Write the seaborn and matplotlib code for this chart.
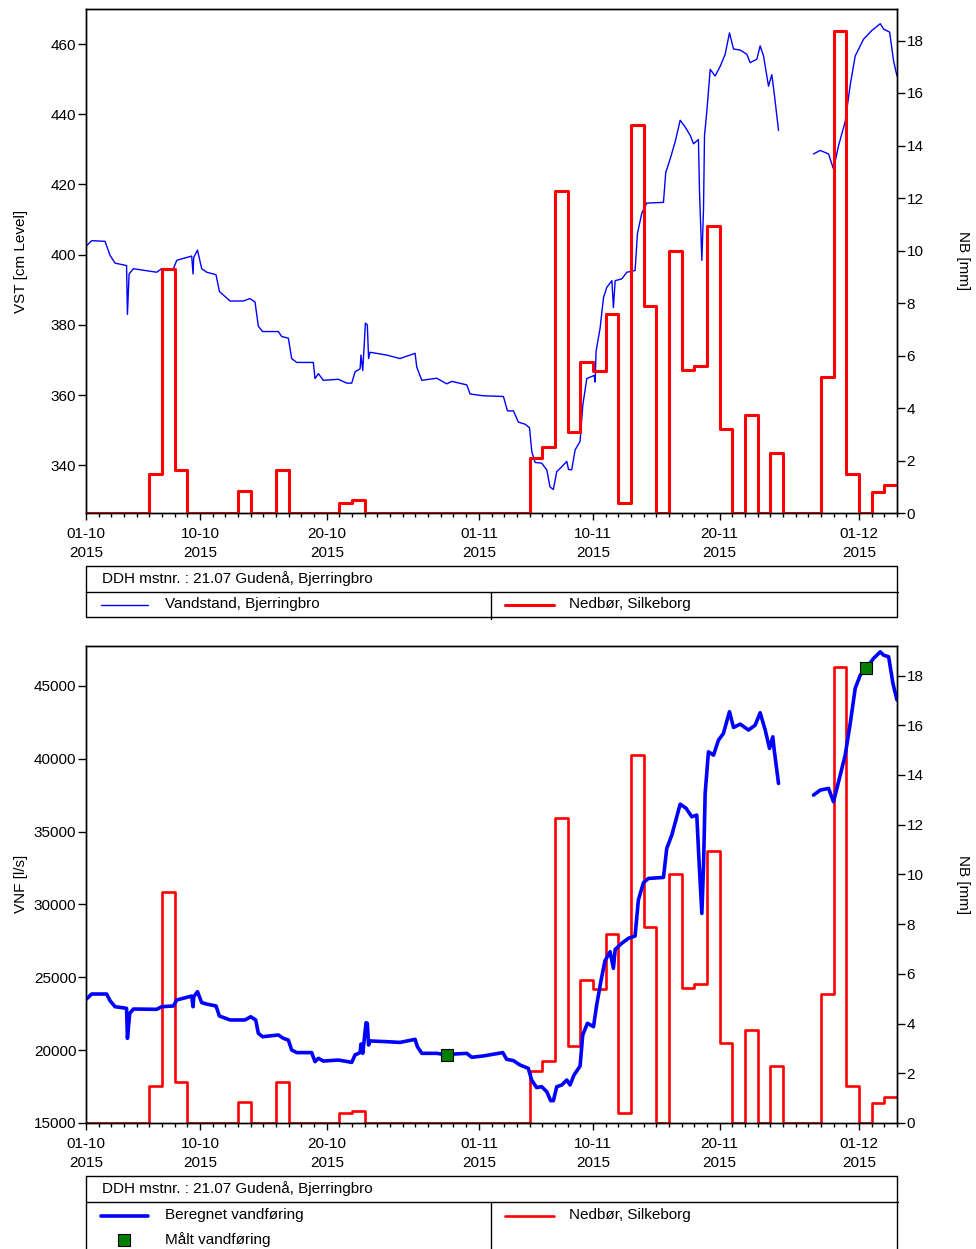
import numpy as np
import pandas as pd
import matplotlib
matplotlib.use('Agg')
import matplotlib.pyplot as plt
import matplotlib.dates as mdates
from matplotlib.patches import Rectangle
import seaborn as sns

sns.set_theme(style='ticks')
plt.rcParams['font.family'] = ['Liberation Sans', 'DejaVu Sans']
for key in ['text.color', 'axes.labelcolor', 'xtick.color', 'ytick.color', 'axes.edgecolor']:
    plt.rcParams[key] = 'black'

START = pd.Timestamp('2015-10-01')
END = pd.Timestamp('2015-12-04')

# daily precipitation, Silkeborg [mm], 01-10-2015 .. 03-12-2015
nb_mm = [0, 0, 0, 0, 0, 1.5, 9.3, 1.65, 0, 0, 0, 0, 0.85, 0, 0, 1.65,
         0, 0, 0, 0, 0.4, 0.5, 0, 0, 0, 0, 0, 0, 0, 0, 0, 0, 0, 0, 0,
         2.1, 2.5, 12.25, 3.1, 5.75, 5.4, 7.6, 0.4, 14.8, 7.9, 0, 10.0,
         5.45, 5.6, 10.95, 3.2, 0, 3.75, 0, 2.3, 0, 0, 0, 5.2, 18.35, 1.5,
         0, 0.8, 1.05]

# water level, Bjerringbro [cm] (days after 01-10-2015)
vst_day = [0.0, 0.45, 1.5, 1.9, 2.29, 3.2, 3.27, 3.4, 3.74, 5.58, 5.97, 6.9,
           7.16, 8.34, 8.45, 8.5, 8.8, 9.13, 9.53, 10.26, 10.53, 11.37, 12.42,
           12.94, 13.34, 13.6, 13.94, 15.18, 15.44, 15.97, 16.23, 16.63, 17.94,
           18.07, 18.34, 18.73, 19.92, 20.58, 20.97, 21.23, 21.63, 21.7, 21.84,
           22.05, 22.2, 22.3, 22.41, 23.73, 24.78, 25.97, 26.1, 26.5, 27.68,
           28.47, 28.87, 30.05, 30.31, 31.36, 32.94, 33.26, 33.73, 34.12, 34.65,
           35.0, 35.18, 35.44, 35.96, 36.36, 36.62, 36.88, 37.15, 37.55, 37.94,
           38.08, 38.33, 38.6, 38.99, 39.2, 39.52, 40.1, 40.18, 40.25, 40.57,
           40.84, 41.1, 41.5, 41.62, 41.76, 42.28, 42.68, 43.33, 43.52, 43.86,
           44.25, 45.57, 45.75, 46.1, 46.49, 46.89, 47.28, 47.68, 47.94, 48.33,
           48.41, 48.6, 48.73, 48.81, 48.99, 49.26, 49.65, 50.05, 50.44, 50.78,
           51.1, 51.63, 52.15, 52.41, 52.94, 53.2, 53.47, 53.86, 54.12, 54.31,
           54.65,
           57.41, 57.94, 58.6, 58.99, 59.39, 59.91, 60.31, 60.7, 61.36, 62.02,
           62.68, 62.94, 63.42, 63.73, 64.0]
vst_cm = [402.4, 404.0, 403.8, 399.8, 397.6, 396.9, 383.0, 394.5, 396.0, 395.0,
          396.0, 396.0, 398.4, 399.6, 394.5, 399.2, 401.3, 396.0, 395.0, 394.3,
          389.5, 386.8, 386.8, 387.5, 386.5, 379.6, 378.1, 378.1, 376.7, 376.2,
          370.4, 369.3, 369.3, 364.7, 366.1, 364.2, 364.5, 363.4, 363.4, 366.6,
          367.5, 371.4, 367.0, 380.5, 380.0, 370.4, 372.2, 371.4, 370.4, 371.9,
          368.0, 364.2, 364.8, 363.2, 363.9, 362.9, 360.3, 359.8, 359.6, 355.5,
          355.5, 352.3, 351.7, 350.7, 343.9, 340.8, 340.6, 338.7, 333.8, 333.1,
          338.2, 339.6, 341.1, 338.8, 338.7, 344.4, 346.8, 357.0, 364.7, 365.6,
          363.7, 372.4, 379.1, 387.8, 390.7, 392.6, 384.9, 392.6, 393.1, 395.0,
          395.5, 406.1, 411.8, 414.7, 414.9, 423.4, 427.3, 432.1, 438.3, 436.4,
          434.0, 431.6, 432.8, 418.6, 398.4, 412.8, 434.0, 440.7, 452.8, 450.9,
          453.7, 457.1, 463.2, 458.6, 458.3, 457.1, 454.7, 455.7, 459.5, 456.6,
          448.0, 451.3, 446.0, 435.4,
          428.7, 429.7, 428.7, 424.4, 431.1, 437.9, 448.4, 456.6, 461.4, 463.9,
          465.8, 464.3, 463.4, 455.2, 450.9]

# computed discharge, Bjerringbro [l/s]
vnf_day = [0.0, 0.45, 1.63, 1.9, 2.29, 3.2, 3.27, 3.45, 3.74, 5.58, 5.97, 6.9,
           7.16, 8.34, 8.45, 8.5, 8.8, 9.13, 9.53, 10.26, 10.53, 11.37, 12.55,
           13.0, 13.39, 13.6, 13.94, 15.18, 15.57, 15.97, 16.23, 16.63, 17.81,
           18.07, 18.34, 18.73, 19.92, 20.97, 21.23, 21.63, 21.7, 21.84, 22.1,
           22.2, 22.3, 22.41, 23.73, 24.78, 25.97, 26.15, 26.5, 27.68, 28.47,
           29.0, 30.05, 30.44, 31.36, 32.89, 33.2, 33.73, 34.25, 34.9, 35.17,
           35.56, 35.96, 36.36, 36.67, 36.88, 37.15, 37.55, 37.94, 38.2, 38.51,
           38.99, 39.2, 39.57, 40.05, 40.3, 40.65, 40.96, 41.36, 41.62, 41.76,
           42.28, 42.8, 43.33, 43.59, 43.99, 44.38, 45.57, 45.83, 46.23, 46.89,
           47.36, 47.81, 48.2, 48.36, 48.6, 48.73, 48.86, 49.12, 49.52, 49.91,
           50.3, 50.78, 51.1, 51.63, 52.28, 52.81, 53.2, 53.6, 53.94, 54.2,
           54.31, 54.65,
           57.41, 57.94, 58.6, 58.99, 59.39, 59.91, 60.31, 60.7, 61.1, 61.57,
           62.15, 62.68, 62.94, 63.34, 63.68, 64.0]
vnf_ls = [23480, 23850, 23850, 23390, 22980, 22870, 20810, 22520, 22820, 22800,
          22980, 23030, 23440, 23710, 22980, 23660, 24010, 23260, 23160, 23030,
          22340, 22070, 22070, 22290, 22070, 21150, 20920, 21040, 20810, 20690,
          20010, 19830, 19830, 19210, 19440, 19250, 19320, 19160, 19670, 19830,
          20420, 19780, 21880, 21840, 20350, 20630, 20580, 20530, 20740, 20240,
          19780, 19780, 19670, 19730, 19780, 19510, 19600, 19830, 19370, 19280,
          18980, 18750, 17950, 17430, 17490, 17150, 16530, 16530, 17490, 17610,
          17950, 17610, 18290, 18910, 21040, 21840, 21610, 23100, 24810, 26140,
          26750, 25610, 26910, 27330, 27670, 27830, 30300, 31490, 31780, 31850,
          33840, 34760, 36880, 36590, 36010, 36130, 33270, 29380, 32580, 37610,
          40470, 40240, 41270, 41730, 43220, 42140, 42370, 41960, 42300, 43150,
          41960, 40700, 41500, 40590, 38300,
          37500, 37840, 37960, 37040, 38420, 40240, 42420, 44820, 45730, 46190,
          46880, 47330, 47100, 46990, 45160, 44020]

# measured discharge
maalt_day = [28.47, 61.57]
maalt_ls = [19650, 46230]

BLUE = '#0000ff'
RED = '#ff0000'
GREEN = '#008000'


def series_frame(days, values):
    df = pd.DataFrame({'tid': START + pd.to_timedelta(days, unit='D'), 'v': values})
    # data gap between 25-11 and 27-11
    df['seg'] = (np.asarray(days) > 56).astype(int)
    return df


def precip_frame():
    tid = pd.date_range(START, periods=len(nb_mm) + 1, freq='D')
    return pd.DataFrame({'tid': tid, 'v': nb_mm + [nb_mm[-1]]})


def style_axes(ax, ax2, ylim, yticks, ylabel):
    ax.set_xlim(START, END)
    ax.set_ylim(*ylim)
    ax.set_yticks(yticks)
    ax2.set_ylim(0, 19.2)
    ax2.set_yticks(range(0, 19, 2))
    ax.xaxis.set_major_locator(mdates.DayLocator(bymonthday=[1, 10, 20]))
    ax.xaxis.set_minor_locator(mdates.DayLocator())
    ax.xaxis.set_major_formatter(mdates.DateFormatter('%d-%m\n%Y'))
    ax.tick_params(axis='x', which='major', length=5, width=1, pad=5, labelsize=11)
    ax.tick_params(axis='x', which='minor', length=3, width=1)
    ax.tick_params(axis='y', length=6, width=1, pad=1, labelsize=11)
    ax2.tick_params(axis='y', length=6, width=1, pad=1, labelsize=11)
    ax.set_xlabel('')
    ax2.set_xlabel('')
    ax.set_ylabel(ylabel, fontsize=11, va='center')
    ax.yaxis.set_label_coords(-0.0805, 0.5)
    ax2.set_ylabel('NB [mm]', rotation=-90, fontsize=11, va='center')
    ax2.yaxis.set_label_coords(1.0814, 0.5)
    for a in (ax, ax2):
        for s in a.spines.values():
            s.set_visible(True)
            s.set_color('black')
            s.set_linewidth(1)
    plt.setp(ax.get_xticklabels(), linespacing=1.45)


fig = plt.figure(figsize=(9.76, 12.49), dpi=100)
W, H = 976, 1249


def px_axes(x0, y0, x1, y1):
    return fig.add_axes([x0 / W, 1 - y1 / H, (x1 - x0) / W, (y1 - y0) / H])


nb = precip_frame()

# top panel: water level + precipitation
ax = px_axes(86, 9, 897, 513)
ax2 = ax.twinx()
sns.lineplot(data=series_frame(vst_day, vst_cm), x='tid', y='v', units='seg',
             estimator=None, color=BLUE, lw=1.0, ax=ax)
sns.lineplot(data=nb, x='tid', y='v', estimator=None, color=RED, lw=2.2,
             drawstyle='steps-post', ax=ax2)
style_axes(ax, ax2, (326.4, 470), range(340, 461, 20), 'VST [cm Level]')

# bottom panel: discharge + precipitation
bx = px_axes(86, 645.7, 897, 1123)
bx2 = bx.twinx()
bx.set_zorder(bx2.get_zorder() + 1)
bx.patch.set_visible(False)
sns.lineplot(data=series_frame(vnf_day, vnf_ls), x='tid', y='v', units='seg',
             estimator=None, color=BLUE, lw=2.6, ax=bx)
sns.scatterplot(x=START + pd.to_timedelta(maalt_day, unit='D'), y=maalt_ls,
                marker='s', s=70, color=GREEN, edgecolor='black', linewidth=0.8,
                zorder=5, ax=bx)
sns.lineplot(data=nb, x='tid', y='v', estimator=None, color=RED, lw=1.9,
             drawstyle='steps-post', ax=bx2)
style_axes(bx, bx2, (15000, 47750), range(15000, 45001, 5000), 'VNF [l/s]')

# legend tables, drawn in pixel coordinates
lax = fig.add_axes([0, 0, 1, 1])
lax.set_xlim(0, W)
lax.set_ylim(H, 0)
lax.axis('off')
kw = dict(color='black', lw=1, clip_on=False)

# top legend
lax.add_patch(Rectangle((86, 566), 811, 51, fill=False, ec='black', lw=1))
lax.plot([86, 898], [592, 592], **kw)
lax.plot([491, 491], [592, 619], **kw)
lax.text(102, 579, 'DDH mstnr. : 21.07 Gudenå, Bjerringbro', va='center', fontsize=11)
lax.plot([101, 148], [605, 605], color=BLUE, lw=1.0)
lax.text(165, 604, 'Vandstand, Bjerringbro', va='center', fontsize=11)
lax.plot([505, 554], [605, 605], color=RED, lw=2.2)
lax.text(569, 604, 'Nedbør, Silkeborg', va='center', fontsize=11)

# bottom legend
lax.plot([86, 897], [1176, 1176], **kw)
lax.plot([86, 898], [1202, 1202], **kw)
lax.plot([86, 86], [1176, 1249], **kw)
lax.plot([897, 897], [1176, 1249], **kw)
lax.plot([491, 491], [1202, 1249], **kw)
lax.text(102, 1189, 'DDH mstnr. : 21.07 Gudenå, Bjerringbro', va='center', fontsize=11)
lax.plot([101, 148], [1216, 1216], color=BLUE, lw=2.6)
lax.text(165, 1215, 'Beregnet vandføring', va='center', fontsize=11)
lax.plot([505, 554], [1216, 1216], color=RED, lw=1.9)
lax.text(569, 1215, 'Nedbør, Silkeborg', va='center', fontsize=11)
lax.plot([124], [1240], marker='s', ms=8, mfc=GREEN, mec='black', mew=0.8)
lax.text(165, 1240, 'Målt vandføring', va='center', fontsize=11)

fig.savefig('out.png', dpi=100)
